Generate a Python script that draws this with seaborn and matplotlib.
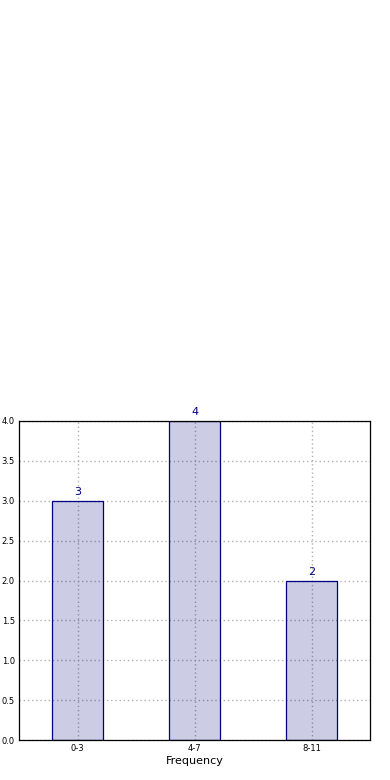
import matplotlib
matplotlib.use("Agg")
import matplotlib.pyplot as plt
import seaborn as sns
import pandas as pd

categories = ["0-3", "4-7", "8-11"]
counts = [3, 4, 2]

sns.set_style("white")
plt.rcParams['font.family'] = ['DejaVu Sans']

fig = plt.figure(figsize=(3.9, 7.8), dpi=100)
ax = fig.add_axes([19/390, 1-740/780, 351/390, 319/780])

df = pd.DataFrame({"cat": categories, "n": counts})
sns.barplot(data=df, x="cat", y="n", ax=ax, width=0.44, color="navy",
            saturation=1, zorder=2)
for p in ax.patches:
    p.set_facecolor((0.0, 0.0, 0.5, 0.2))
    p.set_edgecolor("navy")
    p.set_linewidth(0.9)

for i, v in enumerate(counts):
    ax.text(i, v + 0.05, str(v), ha="center", va="bottom", color="navy", fontsize=8)

ax.set_xlim(-0.5, 2.5)
ax.set_ylim(0, 4.0)
ax.set_yticks([0, 0.5, 1.0, 1.5, 2.0, 2.5, 3.0, 3.5, 4.0])
ax.set_yticklabels([f"{t:.1f}" for t in ax.get_yticks()])
ax.grid(True, linestyle=(0, (1, 2)), color="#b0b0b0", linewidth=1, zorder=0)
ax.set_axisbelow(True)
ax.tick_params(axis="both", labelsize=6, length=0, pad=3, labelcolor="black")
ax.set_xlabel("Frequency", fontsize=8, labelpad=2, color="black")
ax.set_ylabel("")
for s in ax.spines.values():
    s.set_visible(True)
    s.set_color("black")
    s.set_linewidth(0.9)

fig.savefig("out.png", dpi=100)
